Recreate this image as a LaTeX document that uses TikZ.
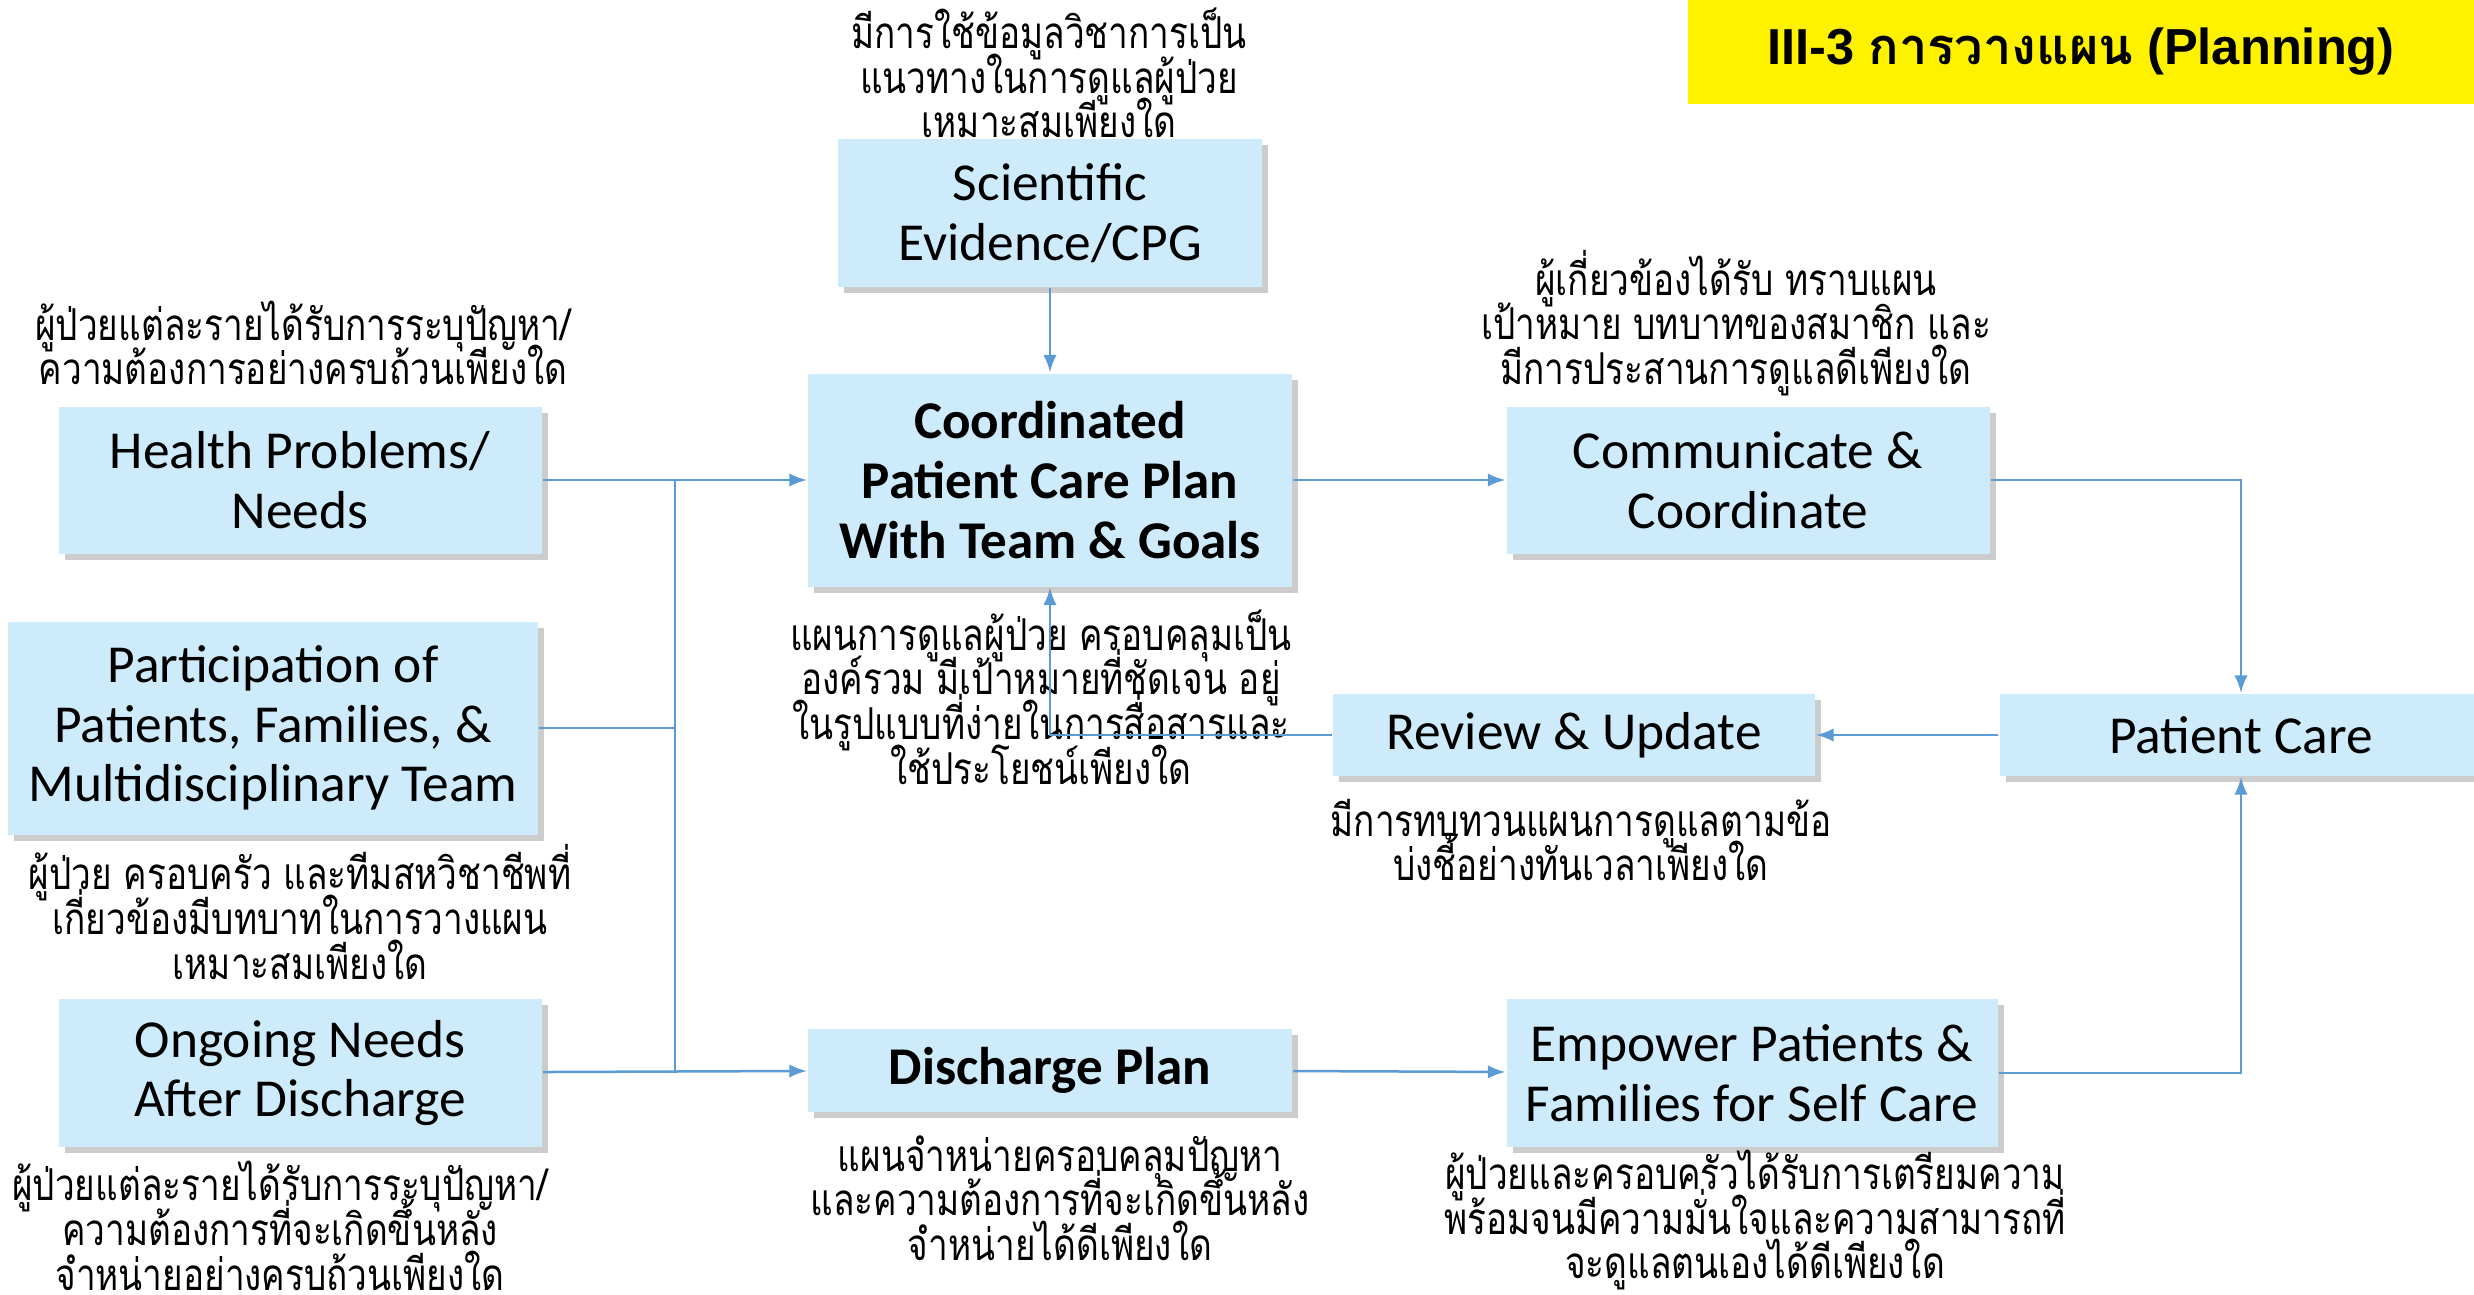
\documentclass[tikz,border=0pt]{standalone}
\usepackage{fontspec}
\setmainfont{Carlito}
\newfontfamily\thaifont[Script=Thai, FakeStretch=0.8]{Loma}
\newfontfamily\titlethai[Script=Thai]{Loma}
\newfontfamily\titlefont{Liberation Sans}
\usetikzlibrary{arrows, shadows, positioning}
\definecolor{boxblue}{HTML}{CDEBFA}
\definecolor{linkblue}{HTML}{5B9BD5}
\newcommand{\notefont}{\thaifont\fontsize{12.5pt}{12.7pt}\selectfont\setlength{\lineskiplimit}{-100pt}}

\begin{document}
\begin{tikzpicture}[x=0.1mm, y=-0.1mm, ->, >=latex, line width=0.25mm]

	\tikzset{node box/.style={fill=boxblue, inner sep=0pt, align=center,
			font=\fontsize{15.2pt}{17pt}\selectfont,
			drop shadow={shadow xshift=0.6mm, shadow yshift=-0.6mm, opacity=0.4}},
		node bold/.style={node box, font=\fontsize{15.1pt}{17pt}\selectfont\bfseries},
		node note/.style={inner sep=0pt, align=center, font=\notefont},
		link/.style={draw=linkblue}}

	\useasboundingbox (0,0) rectangle (2474,1295);

	\node[fill=yellow, minimum width=78.6mm, minimum height=10.4mm, inner sep=0pt] (title) at (2081,52)
	{\titlefont\bfseries\fontsize{14.4pt}{16pt}\selectfont III-3 {\titlethai\bfseries การวางแผน} (Planning)};

	\node[node box, minimum width=42.4mm, minimum height=14.8mm] (sci) at (1050,213) {Scientific\\Evidence/CPG};
	\node[node bold, minimum width=48.4mm, minimum height=21.3mm] (coord) at (1050,480) {Coordinated\\Patient Care Plan\\With Team \& Goals};
	\node[node box, minimum width=48.3mm, minimum height=14.7mm] (health) at (300,480) {Health Problems/\\Needs};
	\node[node box, minimum width=53mm, minimum height=21.3mm] (part) at (273,728) {Participation of\\Patients, Families, \&\\Multidisciplinary Team};
	\node[node box, minimum width=48.3mm, minimum height=14.8mm] (ongo) at (300,1073) {Ongoing Needs\\After Discharge};
	\node[node bold, minimum width=48.4mm, minimum height=8.3mm] (disch) at (1050,1070) {Discharge Plan};
	\node[node box, minimum width=48.3mm, minimum height=14.7mm] (comm) at (1748,480) {Communicate \&\\Coordinate};
	\node[node box, minimum width=48.2mm, minimum height=8.2mm] (review) at (1574,735) {Review \& Update};
	\node[node box, minimum width=48.3mm, minimum height=8.2mm] (pcare) at (2241,735) {Patient Care};
	\node[node box, minimum width=49.1mm, minimum height=14.8mm] (empower) at (1752,1073) {Empower Patients \&\\Families for Self Care};

	\node[node note] (sciNote) at (1049,73) {มีการใช้ข้อมูลวิชาการเป็น\\แนวทางในการดูแลผู้ป่วย\\เหมาะสมเพียงใด};
	\node[node note] (healthNote) at (303,343) {ผู้ป่วยแต่ละรายได้รับการระบุปัญหา/\\ความต้องการอย่างครบถ้วนเพียงใด};
	\node[node note] (partNote) at (300,912) {ผู้ป่วย ครอบครัว และทีมสหวิชาชีพที่\\เกี่ยวข้องมีบทบาทในการวางแผน\\เหมาะสมเพียงใด};
	\node[node note] (ongoNote) at (280,1226) {ผู้ป่วยแต่ละรายได้รับการระบุปัญหา/\\ความต้องการที่จะเกิดขึ้นหลัง\\จำหน่ายอย่างครบถ้วนเพียงใด};
	\node[node note] (dischNote) at (1060,1198) {แผนจำหน่ายครอบคลุมปัญหา\\และความต้องการที่จะเกิดขึ้นหลัง\\จำหน่ายได้ดีเพียงใด};
	\node[node note] (coordNote) at (1041,697) {แผนการดูแลผู้ป่วย ครอบคลุมเป็น\\องค์รวม มีเป้าหมายที่ชัดเจน อยู่\\ในรูปแบบที่ง่ายในการสื่อสารและ\\ใช้ประโยชน์เพียงใด};
	\node[node note] (commNote) at (1736,323) {ผู้เกี่ยวข้องได้รับ ทราบแผน\\เป้าหมาย บทบาทของสมาชิก และ\\มีการประสานการดูแลดีเพียงใด};
	\node[node note] (reviewNote) at (1581,840) {มีการทบทวนแผนการดูแลตามข้อ\\บ่งชี้อย่างทันเวลาเพียงใด};
	\node[node note] (empNote) at (1755,1220) {ผู้ป่วยและครอบครัวได้รับการเตรียมความ\\พร้อมจนมีความมั่นใจและความสามารถที่\\จะดูแลตนเองได้ดีเพียงใด};

	\coordinate (jtop) at (675,480);
	\coordinate (jbot) at (675,1072);

	\draw[link] (sci) -- (coord);
	\draw[link] (health) -- (coord);
	\draw[link, -] (jtop) -- (jbot);
	\draw[link, -] (part) -- (part -| jtop);
	\draw[link] (ongo) -- (disch);
	\draw[link] (coord) -- (comm);
	\draw[link] (comm) -| (pcare);
	\draw[link] (pcare) -- (review);
	\draw[link] (review) -| (coord);
	\draw[link] (disch) -- (empower);
	\draw[link] (empower) -| (pcare);

\end{tikzpicture}
\end{document}
